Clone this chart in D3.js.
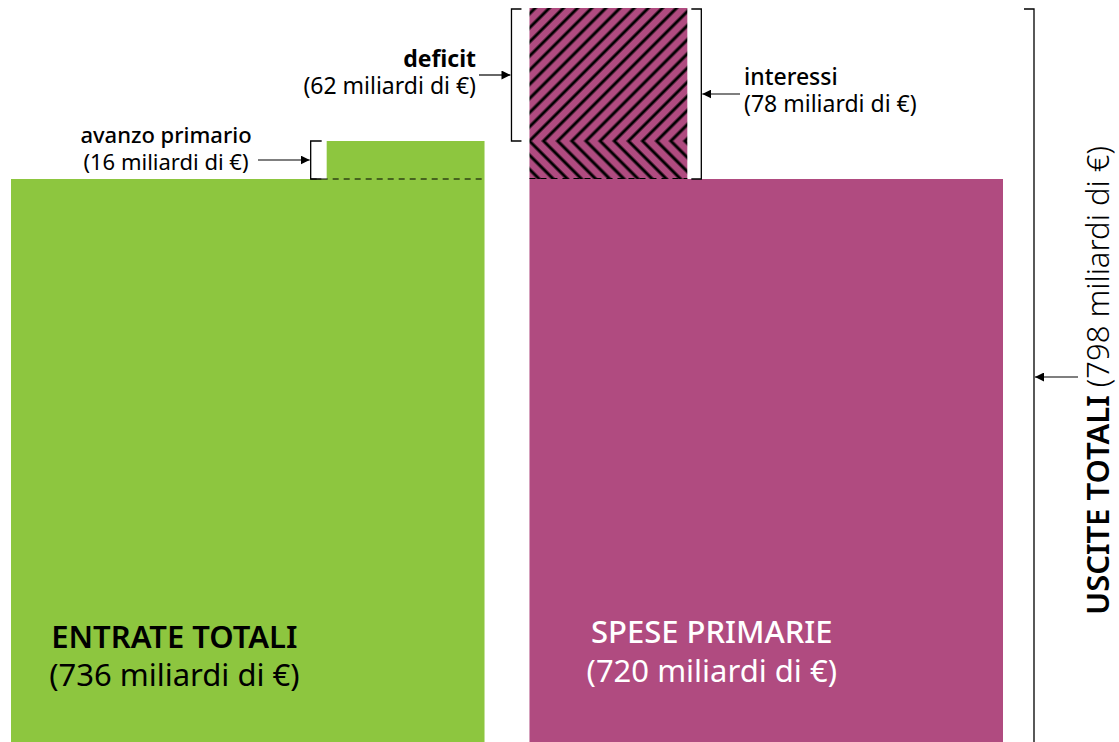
<!DOCTYPE html>
<html>
<head>
<meta charset="utf-8">
<script src="https://cdn.jsdelivr.net/npm/d3@7"></script>
<style>
  html, body { margin: 0; padding: 0; background: #fff; }
  svg { display: block; font-family: "Noto Sans", sans-serif; }
</style>
</head>
<body>
<div id="chart"></div>
<script>
// values in miliardi di euro
var categories = ["ENTRATE TOTALI", "SPESE PRIMARIE"];
var entrateTotali = 736;
var avanzoPrimario = 16;
var spesePrimarie = 720;
var interessi = 78;
var deficit = 62;
var usciteTotali = 798;
var barLabels = ["(736 miliardi di €)", "(720 miliardi di €)"];

var width = 1119, height = 742;
var green = "#8dc63f", magenta = "#b04b80";

var svg = d3.select("#chart").append("svg")
    .attr("width", width)
    .attr("height", height);

var x = d3.scaleBand().domain(categories).range([11, 1003]).paddingInner(0.0867);
// the picture is cut at the bottom: only the top of the bars is shown
var y = d3.scaleLinear()
    .domain([spesePrimarie, entrateTotali, usciteTotali])
    .range([179, 141, 8]);

var bw = x.bandwidth();
var xE = x(categories[0]), xS = x(categories[1]);

// hatch patterns
var defs = svg.append("defs");
function hatch(id, angle) {
    var p = defs.append("pattern")
        .attr("id", id)
        .attr("patternUnits", "userSpaceOnUse")
        .attr("width", 10).attr("height", 10)
        .attr("patternTransform", "translate(" + xS + "," + y(entrateTotali) + ") rotate(" + angle + ")");
    p.append("rect").attr("width", 10).attr("height", 10).attr("fill", magenta);
    p.append("rect").attr("x", -1.5).attr("width", 3).attr("height", 10).attr("fill", "#000");
    p.append("rect").attr("x", 8.5).attr("width", 3).attr("height", 10).attr("fill", "#000");
}
hatch("hatchUp", 45);
hatch("hatchDown", -45);

// bars
svg.append("rect")
    .attr("x", xE).attr("width", bw)
    .attr("y", y(spesePrimarie)).attr("height", y(0) - y(spesePrimarie))
    .attr("fill", green);
svg.append("rect")
    .attr("x", xE + bw * 2 / 3).attr("width", bw / 3)
    .attr("y", y(entrateTotali)).attr("height", y(spesePrimarie) - y(entrateTotali))
    .attr("fill", green);

svg.append("rect")
    .attr("x", xS).attr("width", bw)
    .attr("y", y(spesePrimarie)).attr("height", y(0) - y(spesePrimarie))
    .attr("fill", magenta);
svg.append("rect")
    .attr("x", xS).attr("width", bw / 3)
    .attr("y", y(entrateTotali)).attr("height", y(spesePrimarie) - y(entrateTotali))
    .attr("fill", "url(#hatchDown)");
svg.append("rect")
    .attr("x", xS).attr("width", bw / 3)
    .attr("y", y(usciteTotali)).attr("height", y(entrateTotali) - y(usciteTotali))
    .attr("fill", "url(#hatchUp)");

// dashed lines at spese primarie level
svg.append("line")
    .attr("x1", xE + bw * 2 / 3 - 16).attr("x2", xE + bw)
    .attr("y1", y(spesePrimarie)).attr("y2", y(spesePrimarie))
    .attr("stroke", "#000").attr("stroke-width", 1.2).attr("stroke-dasharray", "6,5");
svg.append("line")
    .attr("x1", xS).attr("x2", xS + bw / 3)
    .attr("y1", y(spesePrimarie) - 0.5).attr("y2", y(spesePrimarie) - 0.5)
    .attr("stroke", "#000").attr("stroke-width", 1).attr("stroke-dasharray", "6,5");

// brackets
var line = d3.line();
function bracket(xLine, xTip, y1, y2) {
    svg.append("path")
        .attr("d", line([[xTip, y1], [xLine, y1], [xLine, y2], [xTip, y2]]))
        .attr("fill", "none").attr("stroke", "#000").attr("stroke-width", 1.3);
}
bracket(xE + bw * 2 / 3 - 16, xE + bw * 2 / 3 - 5, y(entrateTotali), y(spesePrimarie));
bracket(xS - 18, xS - 8, y(usciteTotali) + 1, y(entrateTotali));
bracket(xS + bw / 3 + 14, xS + bw / 3 + 4, y(usciteTotali) + 1, y(spesePrimarie));
bracket(1034, 1024, y(usciteTotali) + 1, height + 5);

// arrows
defs.append("marker")
    .attr("id", "arrow")
    .attr("viewBox", "0 0 10 10")
    .attr("refX", 10).attr("refY", 5)
    .attr("markerWidth", 9).attr("markerHeight", 9)
    .attr("markerUnits", "userSpaceOnUse")
    .attr("orient", "auto")
    .append("path").attr("d", "M0,0L10,5L0,10Z").attr("fill", "#000");

function arrow(x1, x2, yy) {
    svg.append("line")
        .attr("x1", x1).attr("x2", x2).attr("y1", yy).attr("y2", yy)
        .attr("stroke", "#000").attr("stroke-width", 1.2)
        .attr("marker-end", "url(#arrow)");
}
arrow(258, xE + bw * 2 / 3 - 17, (y(entrateTotali) + y(spesePrimarie)) / 2);
arrow(479, xS - 19, 75);
arrow(740, xS + bw / 3 + 15, 94);
arrow(1078, 1035, 377);

// annotations
function label(tx, ty, anchor, lines, size, weights) {
    var t = svg.append("text")
        .attr("text-anchor", anchor)
        .attr("font-size", size)
        .attr("fill", "#000");
    lines.forEach(function (s, i) {
        t.append("tspan")
            .attr("x", tx).attr("y", ty[i])
            .attr("font-weight", weights[i])
            .text(s);
    });
    return t;
}
label(166, [143, 170], "middle", ["avanzo primario", "(" + avanzoPrimario + " miliardi di €)"], 22, [500, 400]);
label(476, [67, 94], "end", ["deficit", "(" + deficit + " miliardi di €)"], 23, [700, 400]);
label(744, [85, 112], "start", ["interessi", "(" + interessi + " miliardi di €)"], 23, [500, 400]);

label(xE + bw * 0.345, [648, 686], "middle", [categories[0], barLabels[0]], 31, [600, 400]);
label(xS + bw * 0.385, [643, 682], "middle", [categories[1], barLabels[1]], 31, [500, 400])
    .attr("fill", "#fff");

var vt = svg.append("text")
    .attr("transform", "translate(1109,615) rotate(-90)")
    .attr("font-size", 31)
    .attr("fill", "#000");
vt.append("tspan").attr("font-weight", 600).text("USCITE TOTALI ");
vt.append("tspan").attr("font-weight", 300).text("(" + usciteTotali + " miliardi di €)");
</script>
</body>
</html>
